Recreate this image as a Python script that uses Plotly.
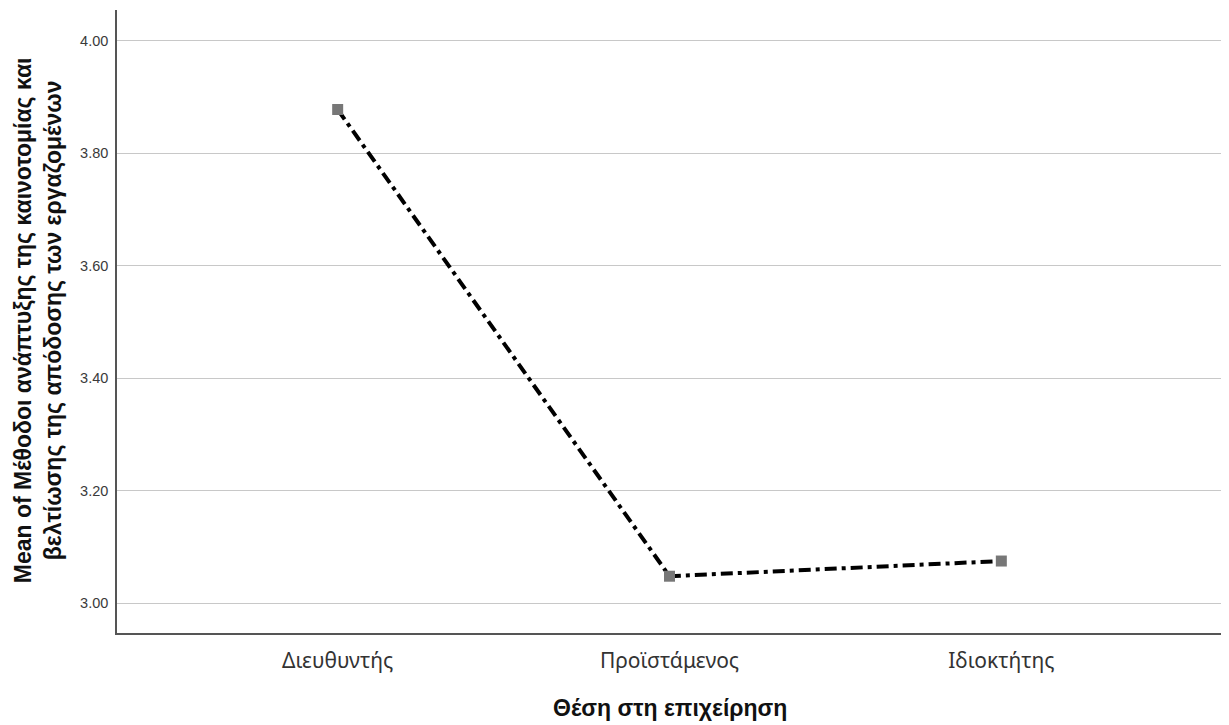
import plotly.graph_objects as go

categories = ["Διευθυντής", "Προϊστάμενος", "Ιδιοκτήτης"]
means = [3.878, 3.048, 3.075]
y_ticks = [3.0, 3.2, 3.4, 3.6, 3.8, 4.0]
y_tick_labels = ["3.00", "3.20", "3.40", "3.60", "3.80", "4.00"]
x_title = "Θέση στη επιχείρηση"
y_title = "Mean of Μέθοδοι ανάπτυξης της καινοτομίας και<br>βελτίωσης της απόδοσης των εργαζομένων"

fig = go.Figure()
fig.add_trace(go.Scatter(
    x=categories, y=means, mode="lines",
    line=dict(color="black", width=4, dash="12px,5px,4px,5px"),
    showlegend=False, hoverinfo="skip"))
fig.add_trace(go.Scatter(
    x=categories, y=means, mode="markers",
    marker=dict(symbol="square", size=11, color="#777777"),
    showlegend=False))

fig.update_layout(
    width=1221, height=717,
    margin=dict(l=109, r=7, t=2, b=92),
    plot_bgcolor="white", paper_bgcolor="white",
    font=dict(family="Liberation Sans, Arial, sans-serif", color="#222222"),
    xaxis=dict(
        type="category", range=[-0.665, 2.665], automargin=False,
        showline=True, linecolor="#555555", linewidth=1.5,
        showgrid=False, ticks="outside", ticklen=8, tickcolor="rgba(0,0,0,0)",
        tickfont=dict(size=21, family="Noto Sans, sans-serif", color="#333333"),
    ),
    yaxis=dict(
        range=[2.947, 4.055], automargin=False,
        tickvals=y_ticks, ticktext=y_tick_labels,
        showline=True, linecolor="#555555", linewidth=1.5,
        showgrid=True, gridcolor="#c8c8c8", gridwidth=1.2,
        ticks="outside", ticklen=4, tickcolor="rgba(0,0,0,0)", zeroline=False,
        tickfont=dict(size=14.5, color="#3a3a3a"),
    ),
    annotations=[
        dict(text="<b>" + y_title + "</b>", textangle=-90,
             xref="paper", yref="paper", x=-0.0715, y=0.502,
             xanchor="center", yanchor="middle", showarrow=False,
             font=dict(size=23, color="#111111")),
        dict(text="<b>" + x_title + "</b>",
             xref="paper", yref="paper", x=0.5003, y=-0.120,
             xanchor="center", yanchor="middle", showarrow=False,
             font=dict(size=23, color="#111111")),
    ],
)

fig.write_html("out.html")
